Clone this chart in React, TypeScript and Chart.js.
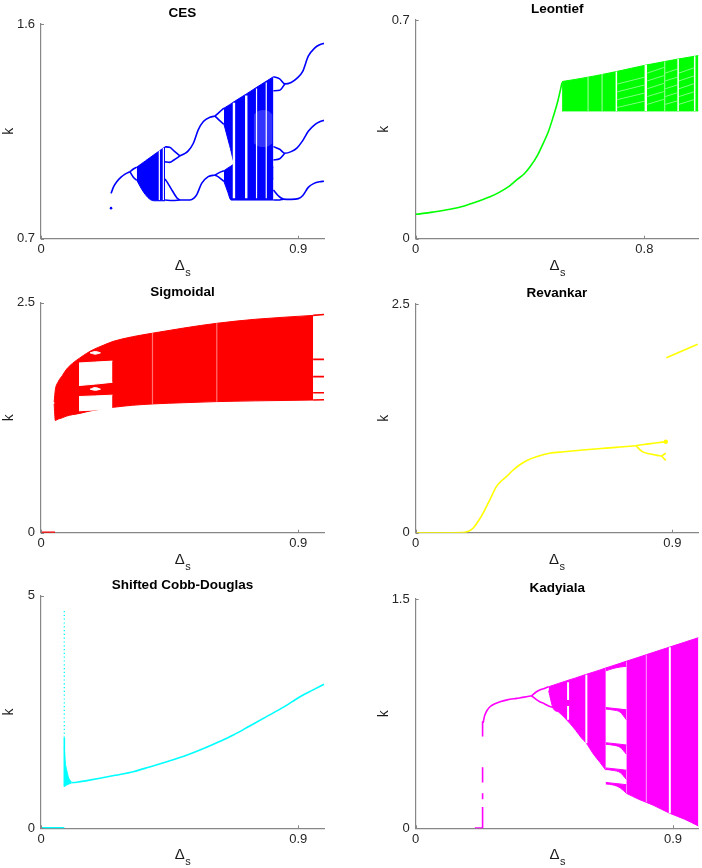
import React, { useEffect, useRef } from "react";
import { Chart, registerables } from "chart.js";
Chart.register(...registerables);

const FONT = '"Liberation Sans", Arial, Helvetica, sans-serif';
const AXIS = "#878787";
const X_MAX = 0.99;

// ---------------- CES ----------------
const cesYTicks = [0.7, 1.6];
const cesXTicks = [0, 0.9];
const cesIsoX = [0.245];
const cesIsoY = [0.828];
const cesP1X = [0.245, 0.255, 0.265, 0.28, 0.294, 0.311];
const cesP1Y = [0.89, 0.92, 0.939, 0.958, 0.971, 0.981];
const cesL1X = [0.311, 0.323, 0.335];
const cesL1UpY = [0.981, 0.992, 1.0];
const cesL1LoY = [0.981, 0.958, 0.945];
const cesB1X = [0.335, 0.35, 0.365, 0.38, 0.395, 0.434];
const cesB1Hi = [1.0, 1.013, 1.026, 1.039, 1.052, 1.085];
const cesB1Lo = [0.945, 0.912, 0.885, 0.866, 0.859, 0.859];
const cesA1X = [0.434, 0.45, 0.465, 0.486];
const cesA1Y = [1.085, 1.083, 1.068, 1.047];
const cesA1bY = [1.022, 1.02, 1.03, 1.047];
const cesA2X = [0.434, 0.445, 0.46, 0.475, 0.486];
const cesA2Y = [0.95, 0.93, 0.9, 0.872, 0.862];
const cesA3X = [0.434, 0.46, 0.486];
const cesA3Y = [0.862, 0.86, 0.862];
const cesU2X = [0.486, 0.5, 0.515, 0.533, 0.55, 0.568, 0.591, 0.609];
const cesU2Y = [1.047, 1.055, 1.068, 1.1, 1.156, 1.191, 1.209, 1.214];
const cesD2X = [0.486, 0.521, 0.535, 0.545, 0.562, 0.585, 0.609];
const cesD2Y = [0.862, 0.862, 0.87, 0.885, 0.932, 0.96, 0.967];
const cesL2X = [0.609, 0.625, 0.64];
const cesL2aY = [1.214, 1.232, 1.247];
const cesL2bY = [1.214, 1.195, 1.18];
const cesL2cY = [0.967, 0.978, 0.985];
const cesL2dY = [0.967, 0.955, 0.94];
const cesB2X = [0.64, 0.66, 0.68, 0.72, 0.76, 0.813];
const cesB2Hi = [1.247, 1.262, 1.278, 1.308, 1.339, 1.379];
const cesB2Lo = [1.18, 1.09, 1.0, 0.95, 0.95, 0.95];
const cesB3X = [0.64, 0.652, 0.665, 0.68, 0.813];
const cesB3Hi = [0.985, 0.995, 1.005, 1.016, 1.0];
const cesB3Lo = [0.94, 0.9, 0.862, 0.862, 0.862];
const cesSpeckX = [0.744, 0.76, 0.778, 0.795, 0.81];
const cesSpeckLo = [1.1, 1.088, 1.084, 1.088, 1.1];
const cesSpeckHi = [1.22, 1.235, 1.24, 1.235, 1.22];
const cesThinStripeX = [0.414, 0.428, 0.754, 0.788];
const cesThinStripeLo = [0.862, 0.862, 0.87, 0.87];
const cesThinStripeHi = [1.07, 1.08, 1.33, 1.355];
const cesWideStripeX = [0.675, 0.718];
const cesWideStripeLo = [0.87, 0.87];
const cesWideStripeHi = [1.27, 1.3];
const ces3X = [0.813, 0.835, 0.853, 0.875, 0.895, 0.915, 0.935, 0.958, 0.975, 0.99];
const cesTopY = [1.379, 1.37, 1.349, 1.355, 1.372, 1.4, 1.465, 1.5, 1.513, 1.519];
const cesMidY = [1.086, 1.075, 1.058, 1.065, 1.08, 1.11, 1.15, 1.178, 1.19, 1.196];
const cesLoop3X = [0.813, 0.835, 0.853];
const cesTopLoopY = [1.32, 1.322, 1.349];
const cesMidLoopY = [1.03, 1.035, 1.058];
const cesBotX = [0.813, 0.83, 0.848, 0.875, 0.9, 0.915, 0.935, 0.955, 0.975, 0.99];
const cesBotY = [0.904, 0.88, 0.866, 0.865, 0.868, 0.88, 0.915, 0.932, 0.939, 0.941];
const cesBotLoopX = [0.813, 0.83, 0.848];
const cesBotLoopY = [0.862, 0.862, 0.866];

// ---------------- Leontief ----------------
const leoYTicks = [0, 0.7];
const leoXTicks = [0, 0.8];
const leoCurveX = [0, 0.06, 0.12, 0.17, 0.213, 0.26, 0.295, 0.33, 0.353, 0.38, 0.4, 0.425, 0.446, 0.465, 0.481, 0.497, 0.512];
const leoCurveY = [0.078, 0.085, 0.094, 0.105, 0.118, 0.134, 0.15, 0.17, 0.188, 0.208, 0.23, 0.265, 0.305, 0.345, 0.39, 0.44, 0.5];
const leoBandX = [0.512, 0.603, 0.702, 0.807, 0.871, 0.918, 0.989];
const leoBandHi = [0.503, 0.517, 0.535, 0.556, 0.567, 0.575, 0.586];
const leoBandLo = [0.409, 0.409, 0.409, 0.409, 0.409, 0.409, 0.409];
const leoStripeX = [0.702, 0.918, 0.976];
const leoStripeLo = [0.409, 0.409, 0.409];
const leoStripeHi = [0.535, 0.575, 0.584];
const leoWideStripeX = [0.805];
const leoWideStripeLo = [0.409];
const leoWideStripeHi = [0.556];
const leoFaintStripeX = [0.603, 0.652, 0.871];
const leoFaintStripeLo = [0.409, 0.409, 0.409];
const leoFaintStripeHi = [0.517, 0.527, 0.567];
const leoDiagX1 = [0.705, 0.705, 0.705, 0.705, 0.81, 0.81, 0.81, 0.81, 0.81, 0.873, 0.873, 0.873, 0.873, 0.873, 0.921, 0.921, 0.921, 0.921, 0.921];
const leoDiagX2 = [0.8, 0.8, 0.8, 0.8, 0.868, 0.868, 0.868, 0.868, 0.868, 0.915, 0.915, 0.915, 0.915, 0.915, 0.973, 0.973, 0.973, 0.973, 0.973];
const leoDiagY1 = [0.42, 0.445, 0.47, 0.495, 0.43, 0.455, 0.48, 0.505, 0.53, 0.43, 0.455, 0.48, 0.505, 0.53, 0.43, 0.455, 0.48, 0.505, 0.53];
const leoDiagY2 = [0.44, 0.466, 0.492, 0.517, 0.446, 0.471, 0.497, 0.522, 0.548, 0.441, 0.467, 0.492, 0.517, 0.543, 0.445, 0.47, 0.496, 0.521, 0.547];

// ---------------- Sigmoidal ----------------
const sigYTicks = [0, 2.5];
const sigXTicks = [0, 0.9];
const sigBaseX = [0, 0.049];
const sigBaseY = [0, 0];
const sigBandX = [0.046, 0.05, 0.06, 0.075, 0.09, 0.11, 0.136, 0.16, 0.183, 0.22, 0.253, 0.32, 0.393, 0.5, 0.615, 0.75, 0.952];
const sigBandHi = [1.42, 1.55, 1.64, 1.71, 1.78, 1.84, 1.9, 1.95, 1.99, 2.04, 2.08, 2.13, 2.17, 2.225, 2.276, 2.32, 2.362];
const sigBandLo = [1.4, 1.22, 1.235, 1.25, 1.268, 1.283, 1.297, 1.315, 1.33, 1.348, 1.363, 1.385, 1.4, 1.413, 1.425, 1.433, 1.442];
const sigWinX = [0.133, 0.19, 0.25];
const sigWinALo = [1.6, 1.615, 1.635];
const sigWinAHi = [1.845, 1.855, 1.865];
const sigWinBLo = [1.325, 1.335, 1.345];
const sigWinBHi = [1.48, 1.487, 1.495];
const sigLoopX = [0.172, 0.19, 0.208];
const sigLoopTopLo = [1.955, 1.94, 1.955];
const sigLoopTopHi = [1.955, 1.97, 1.955];
const sigLoopMidLo = [1.56, 1.548, 1.56];
const sigLoopMidHi = [1.56, 1.578, 1.56];
const sigFaintX = [0.39, 0.615];
const sigFaintLo = [1.4, 1.425];
const sigFaintHi = [2.17, 2.276];
const sigTailX = [0.952, 0.99];
const sigTail1Y = [2.362, 2.372];
const sigTail2Y = [1.884, 1.884];
const sigTail3Y = [1.696, 1.696];
const sigTail4Y = [1.522, 1.522];
const sigTail5Y = [1.442, 1.445];

// ---------------- Revankar ----------------
const revYTicks = [0, 2.5];
const revXTicks = [0, 0.9];
const revX = [0, 0.08, 0.166, 0.185, 0.201, 0.218, 0.236, 0.26, 0.283, 0.3, 0.318, 0.34, 0.364, 0.39, 0.423, 0.469, 0.52, 0.586, 0.65, 0.702, 0.74, 0.772];
const revY = [0, 0, 0.003, 0.015, 0.048, 0.12, 0.212, 0.36, 0.503, 0.565, 0.612, 0.68, 0.74, 0.79, 0.831, 0.868, 0.885, 0.904, 0.92, 0.933, 0.942, 0.951];
const revUpX = [0.772, 0.8, 0.84, 0.877];
const revUpY = [0.951, 0.965, 0.98, 0.995];
const revLoX = [0.772, 0.795, 0.82, 0.842, 0.862];
const revLoY = [0.951, 0.886, 0.862, 0.848, 0.838];
const revForkX = [0.862, 0.877];
const revForkAY = [0.838, 0.868];
const revForkBY = [0.838, 0.79];
const revDotX = [0.877];
const revDotY = [0.995];
const revHighX = [0.879, 0.989];
const revHighY = [1.913, 2.059];

// ---------------- Shifted Cobb-Douglas ----------------
const scdYTicks = [0, 5];
const scdXTicks = [0, 0.9];
const scdBaseX = [0, 0.0816];
const scdBaseY = [0, 0];
const scdSpikeX = [0.0816];
const scdSpikeLo = [0.9];
const scdSpikeHi = [1.95];
const scdDotsLo = [1.95];
const scdDotsHi = [4.7];
const scdDampX = [0.0816, 0.0845, 0.0897, 0.097, 0.107];
const scdDampHi = [1.75, 1.45, 1.26, 1.08, 0.995];
const scdDampLo = [0.895, 0.91, 0.93, 0.95, 0.975];
const scdCurveX = [0.107, 0.125, 0.165, 0.206, 0.26, 0.323, 0.38, 0.44, 0.5, 0.556, 0.615, 0.673, 0.73, 0.789, 0.85, 0.906, 0.95, 0.99];
const scdCurveY = [0.98, 0.99, 1.03, 1.075, 1.14, 1.217, 1.32, 1.432, 1.55, 1.683, 1.84, 2.006, 2.2, 2.4, 2.61, 2.829, 2.97, 3.095];

// ---------------- Kadyiala ----------------
const kadYTicks = [0, 1.5];
const kadXTicks = [0, 0.9];
const kadBaseX = [0.207, 0.235];
const kadBaseY = [0, 0];
const kadDashX = [0.234, 0.234, 0.234, 0.234];
const kadDashLo = [0, 0.19, 0.3, 0.6];
const kadDashHi = [0.14, 0.23, 0.4, 0.7];
const kadCurveX = [0.236, 0.239, 0.242, 0.25, 0.26, 0.275, 0.295, 0.32, 0.353, 0.38, 0.405];
const kadCurveY = [0.69, 0.72, 0.741, 0.772, 0.795, 0.813, 0.828, 0.84, 0.85, 0.858, 0.867];
const kadUpX = [0.405, 0.42, 0.434, 0.45, 0.465];
const kadUpY = [0.867, 0.89, 0.905, 0.915, 0.926];
const kadLoX = [0.405, 0.42, 0.434, 0.45, 0.465, 0.481];
const kadLoY = [0.867, 0.845, 0.828, 0.815, 0.8, 0.79];
const kadBandAX = [0.465, 0.481, 0.5, 0.52, 0.539, 0.56, 0.58, 0.597, 0.62, 0.645, 0.665];
const kadBandAHi = [0.926, 0.936, 0.948, 0.96, 0.972, 0.984, 0.997, 1.007, 1.021, 1.036, 1.049];
const kadBandALo = [0.9, 0.785, 0.76, 0.725, 0.687, 0.64, 0.59, 0.556, 0.49, 0.43, 0.38];
const kadBandBX = [0.737, 0.78, 0.83, 0.889, 0.94, 0.989];
const kadBandBHi = [1.093, 1.119, 1.15, 1.186, 1.217, 1.247];
const kadBandBLo = [0.229, 0.19, 0.152, 0.098, 0.06, 0.015];
const kadWinX = [0.665, 0.69, 0.715, 0.737];
const kadWinTopHi = [1.049, 1.064, 1.079, 1.093];
const kadWinTopLo = [1.03, 1.045, 1.055, 1.06];
const kadBr1Hi = [0.79, 0.785, 0.78, 0.775];
const kadBr1Lo = [0.78, 0.774, 0.76, 0.71];
const kadBr2Hi = [0.56, 0.555, 0.55, 0.545];
const kadBr2Lo = [0.55, 0.544, 0.53, 0.485];
const kadBr3Hi = [0.395, 0.39, 0.385, 0.38];
const kadBr3Lo = [0.385, 0.379, 0.365, 0.32];
const kadBr4Hi = [0.3, 0.295, 0.29, 0.285];
const kadBr4Lo = [0.29, 0.284, 0.265, 0.229];
const kadStripeX = [0.533, 0.533, 0.597, 0.889];
const kadStripeLo = [0.84, 0.71, 0.556, 0.098];
const kadStripeHi = [0.955, 0.8, 1.005, 1.184];
const kadFaintX = [0.807];
const kadFaintLo = [0.17];
const kadFaintHi = [1.135];

// ---------------- structures ----------------
type LineSpec = { x: number[]; y: number[]; w?: number };
type BandSpec = { x: number[]; lo: number[]; hi: number[]; color?: string };
type StripeSpec = { x: number[]; lo: number[]; hi: number[]; w: number; color?: string; dash?: number[] };
type SegSpec = { x1: number[]; x2: number[]; y1: number[]; y2: number[]; w: number; color: string };
type PointSpec = { x: number[]; y: number[]; r: number };
type Panel = {
  title: string;
  color: string;
  yTicks: number[];
  xTicks: number[];
  cell: number[];
  area: number[];
  bands: BandSpec[];
  whites: BandSpec[];
  lines: LineSpec[];
  stripes: StripeSpec[];
  segs: SegSpec[];
  points: PointSpec[];
};

const WHITE = "#ffffff";

const panels: Panel[] = [
  {
    title: "CES",
    color: "#0000ff",
    yTicks: cesYTicks,
    xTicks: cesXTicks,
    cell: [0, 0, 351, 280],
    area: [41, 24, 324, 238.7],
    bands: [
      { x: cesB1X, lo: cesB1Lo, hi: cesB1Hi },
      { x: cesB2X, lo: cesB2Lo, hi: cesB2Hi },
      { x: cesB3X, lo: cesB3Lo, hi: cesB3Hi },
    ],
    whites: [{ x: cesSpeckX, lo: cesSpeckLo, hi: cesSpeckHi, color: "rgba(255,255,255,0.2)" }],
    lines: [
      { x: cesP1X, y: cesP1Y },
      { x: cesL1X, y: cesL1UpY },
      { x: cesL1X, y: cesL1LoY },
      { x: cesA1X, y: cesA1Y },
      { x: cesA1X, y: cesA1bY },
      { x: cesA2X, y: cesA2Y },
      { x: cesA3X, y: cesA3Y },
      { x: cesU2X, y: cesU2Y },
      { x: cesD2X, y: cesD2Y },
      { x: cesL2X, y: cesL2aY },
      { x: cesL2X, y: cesL2bY },
      { x: cesL2X, y: cesL2cY },
      { x: cesL2X, y: cesL2dY },
      { x: ces3X, y: cesTopY },
      { x: ces3X, y: cesMidY },
      { x: cesLoop3X, y: cesTopLoopY },
      { x: cesLoop3X, y: cesMidLoopY },
      { x: cesBotX, y: cesBotY },
      { x: cesBotLoopX, y: cesBotLoopY },
    ],
    stripes: [
      { x: cesThinStripeX, lo: cesThinStripeLo, hi: cesThinStripeHi, w: 1.2 },
      { x: cesWideStripeX, lo: cesWideStripeLo, hi: cesWideStripeHi, w: 2.4 },
    ],
    segs: [],
    points: [{ x: cesIsoX, y: cesIsoY, r: 1.3 }],
  },
  {
    title: "Leontief",
    color: "#00ff00",
    yTicks: leoYTicks,
    xTicks: leoXTicks,
    cell: [351, 0, 351, 280],
    area: [415.7, 20, 698.7, 238.7],
    bands: [{ x: leoBandX, lo: leoBandLo, hi: leoBandHi }],
    whites: [],
    lines: [{ x: leoCurveX, y: leoCurveY }],
    stripes: [
      { x: leoStripeX, lo: leoStripeLo, hi: leoStripeHi, w: 1.5 },
      { x: leoWideStripeX, lo: leoWideStripeLo, hi: leoWideStripeHi, w: 2.4 },
      { x: leoFaintStripeX, lo: leoFaintStripeLo, hi: leoFaintStripeHi, w: 1.2, color: "rgba(255,255,255,0.55)" },
    ],
    segs: [{ x1: leoDiagX1, x2: leoDiagX2, y1: leoDiagY1, y2: leoDiagY2, w: 0.9, color: "rgba(255,255,255,0.55)" }],
    points: [],
  },
  {
    title: "Sigmoidal",
    color: "#ff0000",
    yTicks: sigYTicks,
    xTicks: sigXTicks,
    cell: [0, 280, 351, 295],
    area: [41, 302.7, 324, 532.7],
    bands: [{ x: sigBandX, lo: sigBandLo, hi: sigBandHi }],
    whites: [
      { x: sigWinX, lo: sigWinALo, hi: sigWinAHi },
      { x: sigWinX, lo: sigWinBLo, hi: sigWinBHi },
      { x: sigLoopX, lo: sigLoopTopLo, hi: sigLoopTopHi },
      { x: sigLoopX, lo: sigLoopMidLo, hi: sigLoopMidHi },
    ],
    lines: [
      { x: sigBaseX, y: sigBaseY, w: 2.5 },
      { x: sigTailX, y: sigTail1Y },
      { x: sigTailX, y: sigTail2Y },
      { x: sigTailX, y: sigTail3Y },
      { x: sigTailX, y: sigTail4Y },
      { x: sigTailX, y: sigTail5Y },
    ],
    stripes: [{ x: sigFaintX, lo: sigFaintLo, hi: sigFaintHi, w: 1.2, color: "rgba(255,255,255,0.45)" }],
    segs: [],
    points: [],
  },
  {
    title: "Revankar",
    color: "#ffff00",
    yTicks: revYTicks,
    xTicks: revXTicks,
    cell: [351, 280, 351, 295],
    area: [415.7, 304, 698.7, 532.7],
    bands: [],
    whites: [],
    lines: [
      { x: revX, y: revY },
      { x: revUpX, y: revUpY },
      { x: revLoX, y: revLoY },
      { x: revForkX, y: revForkAY },
      { x: revForkX, y: revForkBY },
      { x: revHighX, y: revHighY },
    ],
    stripes: [],
    segs: [],
    points: [{ x: revDotX, y: revDotY, r: 2.2 }],
  },
  {
    title: "Shifted Cobb-Douglas",
    color: "#00ffff",
    yTicks: scdYTicks,
    xTicks: scdXTicks,
    cell: [0, 575, 351, 293],
    area: [41, 595.7, 324, 828.3],
    bands: [{ x: scdDampX, lo: scdDampLo, hi: scdDampHi }],
    whites: [],
    lines: [
      { x: scdBaseX, y: scdBaseY, w: 2.5 },
      { x: scdCurveX, y: scdCurveY },
    ],
    stripes: [
      { x: scdSpikeX, lo: scdSpikeLo, hi: scdSpikeHi, w: 1.6, color: "#00ffff" },
      { x: scdSpikeX, lo: scdDotsLo, hi: scdDotsHi, w: 1.3, color: "#00ffff", dash: [1.2, 2.6] },
    ],
    segs: [],
    points: [],
  },
  {
    title: "Kadyiala",
    color: "#ff00ff",
    yTicks: kadYTicks,
    xTicks: kadXTicks,
    cell: [351, 575, 351, 293],
    area: [415.7, 599, 698.7, 828.3],
    bands: [
      { x: kadBandAX, lo: kadBandALo, hi: kadBandAHi },
      { x: kadBandBX, lo: kadBandBLo, hi: kadBandBHi },
      { x: kadWinX, lo: kadWinTopLo, hi: kadWinTopHi },
      { x: kadWinX, lo: kadBr1Lo, hi: kadBr1Hi },
      { x: kadWinX, lo: kadBr2Lo, hi: kadBr2Hi },
      { x: kadWinX, lo: kadBr3Lo, hi: kadBr3Hi },
      { x: kadWinX, lo: kadBr4Lo, hi: kadBr4Hi },
    ],
    whites: [],
    lines: [
      { x: kadBaseX, y: kadBaseY, w: 2.2 },
      { x: kadCurveX, y: kadCurveY },
      { x: kadUpX, y: kadUpY },
      { x: kadLoX, y: kadLoY },
    ],
    stripes: [
      { x: kadDashX, lo: kadDashLo, hi: kadDashHi, w: 1.6, color: "#ff00ff" },
      { x: kadStripeX, lo: kadStripeLo, hi: kadStripeHi, w: 2 },
      { x: kadFaintX, lo: kadFaintLo, hi: kadFaintHi, w: 1.2, color: "rgba(255,255,255,0.5)" },
    ],
    segs: [],
    points: [],
  },
];

function pts(x: number[], y: number[]) {
  return x.map((v, i) => ({ x: v, y: y[i] }));
}

function buildDatasets(p: Panel) {
  const ds: any[] = [];
  const addBand = (b: BandSpec, color: string, order: number, edge: boolean) => {
    ds.push({
      type: "line",
      data: pts(b.x, b.lo),
      borderColor: edge ? color : "rgba(0,0,0,0)",
      borderWidth: edge ? 1 : 0,
      pointRadius: 0,
      fill: false,
      cubicInterpolationMode: "monotone",
      order,
    });
    ds.push({
      type: "line",
      data: pts(b.x, b.hi),
      borderColor: edge ? color : "rgba(0,0,0,0)",
      backgroundColor: color,
      borderWidth: edge ? 1 : 0,
      pointRadius: 0,
      fill: "-1",
      cubicInterpolationMode: "monotone",
      order,
    });
  };
  p.bands.forEach((b) => addBand(b, b.color ?? p.color, 3, true));
  p.whites.forEach((b) => addBand(b, b.color ?? WHITE, 2, !b.color));
  p.lines.forEach((l) =>
    ds.push({
      type: "line",
      data: pts(l.x, l.y),
      borderColor: p.color,
      borderWidth: l.w ?? 1.6,
      pointRadius: 0,
      fill: false,
      cubicInterpolationMode: "monotone",
      order: 1,
    })
  );
  p.segs.forEach((s) => {
    const data: any[] = [];
    s.x1.forEach((v, i) => {
      data.push({ x: v, y: s.y1[i] }, { x: s.x2[i], y: s.y2[i] }, { x: s.x2[i], y: null });
    });
    ds.push({
      type: "line",
      data,
      borderColor: s.color,
      borderWidth: s.w,
      pointRadius: 0,
      fill: false,
      spanGaps: false,
      tension: 0,
      order: 0,
    });
  });
  p.stripes.forEach((s) => {
    const data: any[] = [];
    s.x.forEach((v, i) => {
      data.push({ x: v, y: s.lo[i] }, { x: v, y: s.hi[i] }, { x: v, y: null });
    });
    ds.push({
      type: "line",
      data,
      borderColor: s.color ?? WHITE,
      borderWidth: s.w,
      borderDash: s.dash ?? [],
      pointRadius: 0,
      fill: false,
      spanGaps: false,
      tension: 0,
      order: 0,
    });
  });
  p.points.forEach((pt) =>
    ds.push({
      type: "line",
      data: pts(pt.x, pt.y),
      showLine: false,
      pointRadius: pt.r,
      pointBackgroundColor: p.color,
      pointBorderWidth: 0,
      order: 0,
    })
  );
  return ds;
}

const decorPlugin = {
  id: "decor",
  afterDraw(chart: any, _args: any, opts: any) {
    const { ctx, chartArea: a, scales } = chart;
    const xs = scales.x;
    const ys = scales.y;
    ctx.save();
    ctx.strokeStyle = AXIS;
    ctx.lineWidth = 1;
    ctx.beginPath();
    xs.ticks.forEach((t: any) => {
      const p = Math.round(xs.getPixelForValue(t.value)) + 0.5;
      ctx.moveTo(p, a.bottom);
      ctx.lineTo(p, a.bottom - 3);
    });
    ys.ticks.forEach((t: any) => {
      const p = Math.round(ys.getPixelForValue(t.value)) + 0.5;
      ctx.moveTo(a.left, p);
      ctx.lineTo(a.left + 3, p);
    });
    ctx.stroke();

    const cxm = (a.left + a.right) / 2;
    ctx.fillStyle = "#000";
    ctx.textAlign = "center";
    ctx.textBaseline = "alphabetic";
    ctx.font = `bold 13.5px ${FONT}`;
    ctx.fillText(opts.title, cxm, a.top - 7);

    ctx.save();
    ctx.translate(a.left - 28, (a.top + a.bottom) / 2);
    ctx.rotate(-Math.PI / 2);
    ctx.font = `14px ${FONT}`;
    ctx.fillStyle = "#1a1a1a";
    ctx.fillText("k", 0, 0);
    ctx.restore();

    ctx.font = `15px ${FONT}`;
    const wD = ctx.measureText("Δ").width;
    ctx.font = `11px ${FONT}`;
    const wS = ctx.measureText("s").width;
    const x0 = cxm - (wD + wS) / 2;
    ctx.textAlign = "left";
    ctx.fillStyle = "#1a1a1a";
    ctx.font = `15px ${FONT}`;
    ctx.fillText("Δ", x0, a.bottom + 31);
    ctx.font = `11px ${FONT}`;
    ctx.fillText("s", x0 + wD + 0.5, a.bottom + 37);
    ctx.restore();
  },
};

function PanelChart({ p }: { p: Panel }) {
  const ref = useRef<HTMLCanvasElement | null>(null);
  const [cx, cy, w, h] = p.cell;
  useEffect(() => {
    const [L, T, R, B] = p.area;
    const Y_W = 40;
    const X_H = 30;
    const chart = new Chart(ref.current as HTMLCanvasElement, {
      type: "line",
      data: { datasets: buildDatasets(p) },
      options: {
        animation: false,
        responsive: false,
        events: [],
        layout: {
          padding: { left: L - cx - Y_W, top: T - cy, right: cx + w - R, bottom: cy + h - B - X_H },
        },
        plugins: {
          legend: { display: false },
          tooltip: { enabled: false },
          decor: { title: p.title },
        } as any,
        scales: {
          x: {
            type: "linear",
            min: 0,
            max: X_MAX,
            afterBuildTicks: (s: any) => {
              s.ticks = p.xTicks.map((v) => ({ value: v }));
            },
            afterFit: (s: any) => {
              s.height = X_H;
            },
            grid: { display: false, drawTicks: false },
            border: { display: true, color: AXIS, width: 1.2 },
            ticks: {
              padding: 3,
              color: "#262626",
              font: { size: 13, family: FONT },
              maxRotation: 0,
              autoSkip: false,
              callback: (v: any) => String(v),
            },
          },
          y: {
            type: "linear",
            min: p.yTicks[0],
            max: p.yTicks[p.yTicks.length - 1],
            afterBuildTicks: (s: any) => {
              s.ticks = p.yTicks.map((v) => ({ value: v }));
            },
            afterFit: (s: any) => {
              s.width = Y_W;
            },
            grid: { display: false, drawTicks: false },
            border: { display: true, color: AXIS, width: 1.2 },
            ticks: {
              padding: 6,
              color: "#262626",
              font: { size: 13, family: FONT },
              autoSkip: false,
              callback: (v: any) => String(v),
            },
          },
        },
      } as any,
      plugins: [decorPlugin as any],
    });
    return () => chart.destroy();
  }, [p]);
  return (
    <canvas
      ref={ref}
      width={w}
      height={h}
      style={{ position: "absolute", left: cx, top: cy, width: w, height: h }}
    />
  );
}

export default function App() {
  return (
    <div style={{ position: "absolute", left: 0, top: 0, width: 702, height: 868, background: "#fff", overflow: "hidden" }}>
      {panels.map((p) => (
        <PanelChart key={p.title} p={p} />
      ))}
    </div>
  );
}
